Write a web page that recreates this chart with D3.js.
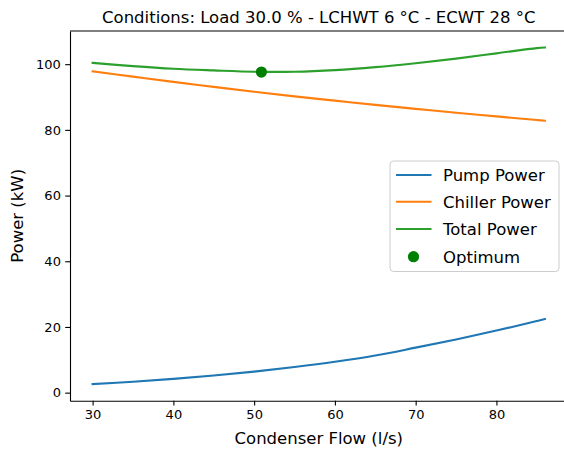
<!DOCTYPE html>
<html>
<head>
<meta charset="utf-8">
<script src="https://cdn.jsdelivr.net/npm/d3@7"></script>
<style>
  body { margin: 0; background: #fff; }
  text { font-family: "DejaVu Sans", sans-serif; fill: #000; }
</style>
</head>
<body>
<div id="chart"></div>
<script>
// values
var flow = [30, 35, 40, 45, 50, 55, 60, 65, 70, 75, 80, 85, 86];
var pumpPower = [2.6, 3.3, 4.2, 5.2, 6.4, 7.8, 9.4, 11.3, 13.7, 16.2, 18.9, 21.8, 22.4];
var chillerPower = [97.8, 96.2, 94.6, 93.1, 91.6, 90.2, 88.9, 87.6, 86.4, 85.2, 84.1, 83.0, 82.8];
var totalPower = [100.4, 99.4, 98.6, 98.1, 97.7, 97.7, 98.2, 99.1, 100.3, 101.7, 103.3, 104.9, 105.1];
var optimum = [50.9, 97.6];

var xTicks = [30, 40, 50, 60, 70, 80];
var yTicks = [0, 20, 40, 60, 80, 100];

var seriesNames = ["Pump Power", "Chiller Power", "Total Power"];
var seriesValues = [pumpPower, chillerPower, totalPower];
var colors = ["#1f77b4", "#ff7f0e", "#2ca02c"];

var W = 564, H = 450;
// plot area (right edge runs off the picture like in the reference)
var m = {l: 70, r: 567.5, t: 31, b: 400.7};

var svg = d3.select("#chart").append("svg")
  .attr("width", W)
  .attr("height", H);

var x = d3.scaleLinear().domain([27.2, 88.8]).range([m.l, m.r]);
var y = d3.scaleLinear().domain([-2.45, 110.1]).range([m.b, m.t]);

// lines
var line = d3.line()
  .x(function(d) { return x(d[0]); })
  .y(function(d) { return y(d[1]); })
  .curve(d3.curveCatmullRom.alpha(0.5));

seriesValues.forEach(function(vals, i) {
  var pts = flow.map(function(f, j) { return [f, vals[j]]; });
  svg.append("path")
    .datum(pts)
    .attr("d", line)
    .attr("fill", "none")
    .attr("stroke", colors[i])
    .attr("stroke-width", 2.1)
    .attr("stroke-linecap", "square");
});

svg.append("circle")
  .attr("cx", x(optimum[0]))
  .attr("cy", y(optimum[1]))
  .attr("r", 5.6)
  .attr("fill", "#008000");

// axes
var xAxis = d3.axisBottom(x).tickValues(xTicks).tickSize(4.8).tickPadding(4.3).tickSizeOuter(0);
var yAxis = d3.axisLeft(y).tickValues(yTicks).tickSize(4.8).tickPadding(4.3).tickSizeOuter(0);

var gx = svg.append("g")
  .attr("transform", "translate(0," + m.b + ")")
  .call(xAxis);
var gy = svg.append("g")
  .attr("transform", "translate(" + m.l + ",0)")
  .call(yAxis);

[gx, gy].forEach(function(g) {
  g.attr("font-size", null).attr("font-family", null);
  g.selectAll("text").style("font-family", "DejaVu Sans").style("font-size", "13px").attr("fill", "#000");
  g.selectAll("line").attr("stroke", "#000").attr("stroke-width", 1.1);
  g.select(".domain").attr("stroke", "#000").attr("stroke-width", 1.1);
});

// top spine
svg.append("line")
  .attr("x1", m.l).attr("x2", m.r)
  .attr("y1", m.t).attr("y2", m.t)
  .attr("stroke", "#000").attr("stroke-width", 1.1);

// title and labels
svg.append("text")
  .attr("x", (m.l + m.r) / 2)
  .attr("y", 22.5)
  .attr("text-anchor", "middle")
  .style("font-size", "16.5px")
  .text("Conditions: Load 30.0 % - LCHWT 6 °C - ECWT 28 °C");

svg.append("text")
  .attr("x", (m.l + m.r) / 2)
  .attr("y", 444)
  .attr("text-anchor", "middle")
  .style("font-size", "16.5px")
  .text("Condenser Flow (l/s)");

svg.append("text")
  .attr("transform", "translate(23," + ((m.t + m.b) / 2) + ") rotate(-90)")
  .attr("text-anchor", "middle")
  .style("font-size", "16.5px")
  .text("Power (kW)");

// legend
var legend = svg.append("g").attr("transform", "translate(390,161)");
legend.append("rect")
  .attr("width", 169)
  .attr("height", 110.5)
  .attr("rx", 3.5)
  .attr("fill", "#fff")
  .attr("fill-opacity", 0.8)
  .attr("stroke", "#cccccc")
  .attr("stroke-width", 1);

var rowY = [14, 40.7, 68, 95.7];
seriesNames.forEach(function(name, i) {
  legend.append("line")
    .attr("x1", 6).attr("x2", 41.5)
    .attr("y1", rowY[i]).attr("y2", rowY[i])
    .attr("stroke", colors[i])
    .attr("stroke-width", 2.1);
  legend.append("text")
    .attr("x", 53)
    .attr("y", rowY[i] + 6)
    .style("font-size", "16.5px")
    .text(name);
});
legend.append("circle")
  .attr("cx", 23.5)
  .attr("cy", rowY[3])
  .attr("r", 5.6)
  .attr("fill", "#008000");
legend.append("text")
  .attr("x", 53)
  .attr("y", rowY[3] + 6)
  .style("font-size", "16.5px")
  .text("Optimum");
</script>
</body>
</html>
